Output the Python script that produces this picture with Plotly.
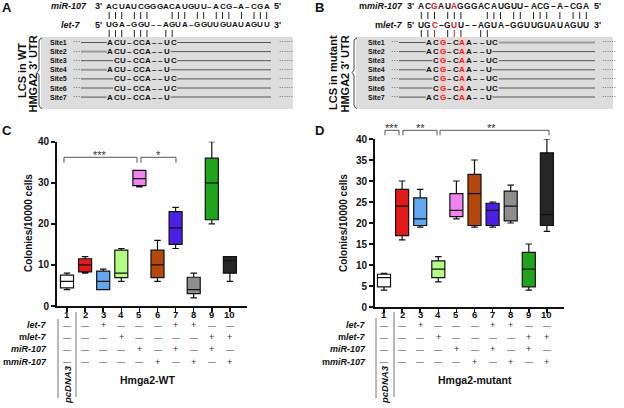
import plotly.graph_objects as go

W, H = 624, 408
FONT = "Liberation Sans, Arial, sans-serif"

# ---------------- data ----------------
categories = list(range(1, 11))
box_colors = ["#ffffff", "#e3191c", "#62a8ee", "#b3fd86", "#f083ee",
              "#b4480c", "#4b1fe6", "#8e8e8e", "#20a31d", "#262626"]

# Panel C: Hmga2-WT
wt_low = [4, 8, 4, 6, 29, 6, 14, 2, 20, 6]
wt_q1 = [4.4, 8.3, 4, 6.9, 29.3, 6.9, 15, 3, 21, 8]
wt_med = [6, 10, 6, 8, 31, 10, 19, 4, 30, 11]
wt_q3 = [7.5, 11.5, 8.5, 13.6, 33, 13.6, 23, 7, 36, 12]
wt_high = [8, 12, 9, 14, 33, 16, 24, 8, 40, 12]

# Panel D: Hmga2-mutant
mut_low = [4, 16, 19, 6, 21, 19, 19, 20, 4, 18]
mut_q1 = [4.8, 17, 19.4, 7, 21.5, 19.4, 19.4, 20.5, 4.8, 19.4]
mut_med = [7, 24, 21, 9, 23, 27, 23, 24, 9, 22]
mut_q3 = [7.8, 28, 26, 11, 27, 31.6, 24.7, 27.6, 13, 36.7]
mut_high = [8, 30, 28, 12, 30, 35, 25, 29, 15, 40]

wt_yticks = [0, 10, 20, 30, 40]
mut_yticks = [0, 5, 10, 15, 20, 25, 30, 35, 40]

row_labels = ["<i>let-7</i>", "m<i>let-7</i>", "<i>miR-107</i>", "m<i>miR-107</i>"]
row_signs = ["--+---++--",
             "---+----++",
             "----+-+-+-",
             "-----+-+-+"]

mir107 = "ACUAUCGGGACAUGUU–ACG–A–CGA"
let7 = "UGA–GGU––AGUA–GGUUGUAUAGUU"
mmir107 = "ACGAUAGGGACAUGUU–ACG–A–CGA"
mlet7 = "UGC–GUU––AGUA–GGUUGUAUAGUU"
top_pairs = [0, 1, 2, 4, 5, 6, 10, 11, 12, 14, 15, 17, 18, 19, 21, 23, 24, 25]
site_pairs = [0, 1, 2, 4, 5, 6, 9, 10]
site_names = ["Site1", "Site2", "Site3", "Site4", "Site5", "Site6", "Site7"]
wt_sites = ["ACU–CCA––UC", "ACU–CCA––U", " CU–CCA––UC", "ACU–CCA––U",
            " CU–CCA––UC", " CU–CCA––UC", "ACU–CCA––U"]
mut_sites = ["ACG–CAA––UC", "ACG–CAA––U", " CG–CAA––UC", "ACG–CAA––U",
             " CG–CAA––UC", " CG–CAA––UC", "ACG–CAA––U"]
mut_cols = [2, 5]
# which flanking lines of each site row are drawn as the pale, thicker variant
wt_pale = [(), ("left",), (), ("left",), (), (), ("right",)]
mut_pale = [("right",), (), (), (), ("left",), (), ("right",)]

# ---------------- helpers ----------------
annotations = []
shapes = []
RED = "#e0201c"


def px(x):
    return x / W


def py(y):
    return 1 - y / H


def txt(x, y, s, size=9, color="#111", xanchor="center", yanchor="middle",
        angle=0, bold=True, family=FONT):
    annotations.append(dict(
        x=px(x), y=py(y), xref="paper", yref="paper",
        text=f"<b>{s}</b>" if bold else s, showarrow=False,
        xanchor=xanchor, yanchor=yanchor, textangle=angle,
        font=dict(family=family, size=size, color=color)))


def line(x0, y0, x1, y1, color="#111", width=1):
    shapes.append(dict(type="line", xref="paper", yref="paper",
                       x0=px(x0), y0=py(y0), x1=px(x1), y1=py(y1),
                       line=dict(color=color, width=width)))


def rect(x0, y0, x1, y1, fill):
    shapes.append(dict(type="rect", xref="paper", yref="paper",
                       x0=px(x0), y0=py(y0), x1=px(x1), y1=py(y1),
                       fillcolor=fill, line=dict(width=0), layer="below"))


def path(points, color="#555", width=1):
    d = "M " + " L ".join(f"{px(x):.5f},{py(y):.5f}" for x, y in points)
    shapes.append(dict(type="path", xref="paper", yref="paper", path=d,
                       line=dict(color=color, width=width)))


def seq_text(x0, cell, y, s, red, size):
    """One character per column; column k spans [x0+k*cell, x0+(k+1)*cell]."""
    first = len(s) - len(s.lstrip())
    last = len(s.rstrip())
    for k in range(first, last):
        txt(x0 + cell * (k + 0.5), y, s[k], size=size,
            color=RED if k in red else "#111")
    return x0 + cell * first, x0 + cell * last


def seq_panel(letter, lx, top_lbl, top_lbl_r, top_seq, bot_lbl, bot_lbl_r,
              bot_seq, col0, cell, red, box, brace_x, side, site_lbl_x,
              site_col0, site_cell, line_end, rdots_x, sites, pale,
              top_size, site_size):
    txt(lx, 7, letter, size=13)
    top_y, bot_y = 6.5, 24.5
    txt(top_lbl_r, top_y, top_lbl, size=9, xanchor="right")
    txt(bot_lbl_r, bot_y, bot_lbl, size=9, xanchor="right")
    txt(col0 - 2.5, top_y, "3'", size=9, xanchor="right")
    txt(col0 - 2.5, bot_y, "5'", size=9, xanchor="right")
    txt(col0 + cell * 26 + 2.5, top_y, "5'", size=9, xanchor="left")
    txt(col0 + cell * 26 + 2.5, bot_y, "3'", size=9, xanchor="left")
    seq_text(col0, cell, top_y, top_seq, red, top_size)
    seq_text(col0, cell, bot_y, bot_seq, red, top_size)
    for i in top_pairs:
        x = col0 + cell * (i + 0.5)
        line(x, 12, x, 19, "#222", 1)
    for i in site_pairs:
        x = col0 + cell * (i + 0.5)
        c = RED if i in red else "#222"
        line(x, 30, x, 37, c, 1)
    # grey box
    rect(box[0], 37, box[1], 109, "#dddddd")
    for i in red:
        xc = site_col0 + site_cell * (i + 0.5)
        rect(xc - 3.2, 38, xc + 3.2, 101, "#f3c9c9")
    # brace
    bx = brace_x
    path([(bx + 3, 38), (bx + 1, 39), (bx, 41), (bx, 70), (bx - 2, 72.5),
          (bx, 75), (bx, 105), (bx + 1, 107.5), (bx + 3, 108.5)], "#444", 1)
    txt(side[0], side[1], side[2], size=11, angle=-90)
    txt(side[3], side[4], side[5], size=11, angle=-90)
    for k, s in enumerate(sites):
        y = 42.5 + 9.1 * k
        txt(site_lbl_x, y, site_names[k], size=7, xanchor="left")
        txt(site_lbl_x + 23, y - 0.5, "···", size=7.5, xanchor="left", bold=False)
        xs, xe = seq_text(site_col0, site_cell, y, s, red, site_size)
        lc, lw = ("#9a9a9a", 2) if "left" in pale[k] else ("#555", 1)
        rc, rw = ("#9a9a9a", 2) if "right" in pale[k] else ("#555", 1)
        line(site_lbl_x + 33, y, xs - 0.3, y, lc, lw)
        line(xe + 0.3, y, line_end, y, rc, rw)
        txt(rdots_x, y - 0.5, "······", size=7, xanchor="left", bold=False)


seq_panel("A", 7, "<i>miR-107</i>", 89, mir107, "<i>let-7</i>", 83, let7,
          106, 6.3, [], (41, 293), 39,
          (22, 71, "LCS in WT", 32.5, 74, "HMGA2 3′ UTR"),
          48, 107, 6.35, 271, 277, wt_sites, wt_pale, 8.05, 8.0)
seq_panel("B", 319, "m<i>miR-107</i>", 405, mmir107, "m<i>let-7</i>", 405, mlet7,
          418, 6.6, mut_cols, (356, 613), 354,
          (333, 73, "LCS in mutant", 344, 74.5, "HMGA2 3′ UTR"),
          366, 426, 6.6, 595, 600, mut_sites, mut_pale, 8.4, 8.0)

# ---------------- box plots ----------------
fig = go.Figure()


def add_boxes(low, q1, med, q3, high, xa, ya):
    for i, c in enumerate(categories):
        fig.add_trace(go.Box(
            x=[c], q1=[q1[i]], median=[med[i]], q3=[q3[i]],
            lowerfence=[low[i]], upperfence=[high[i]],
            fillcolor=box_colors[i], line=dict(color="#111", width=1.2),
            width=0.72, whiskerwidth=0.5, boxpoints=False,
            xaxis=xa, yaxis=ya, hoverinfo="skip", showlegend=False))


add_boxes(wt_low, wt_q1, wt_med, wt_q3, wt_high, "x", "y")
add_boxes(mut_low, mut_q1, mut_med, mut_q3, mut_high, "x2", "y2")

spacing = 18.1
c_x1, d_x1 = 67, 384  # pixel of category 1 in C and D


def xaxis_cfg(left, right, cat1, anchor):
    lo = 1 + (left - cat1) / spacing
    hi = 1 + (right - cat1) / spacing
    return dict(domain=[px(left), px(right)], range=[lo, hi], anchor=anchor,
                tickvals=categories, showticklabels=False, ticks="outside",
                ticklen=4, tickwidth=1.5, tickcolor="#111", showline=True,
                linecolor="#111", linewidth=2, showgrid=False, zeroline=False,
                fixedrange=True, automargin=False)


def yaxis_cfg(bottom, top, ticks, anchor):
    return dict(domain=[py(bottom), py(top)], range=[0, 40], anchor=anchor,
                tickvals=ticks, ticktext=[f"<b>{t}</b>" for t in ticks],
                ticks="outside", ticklen=4, tickwidth=2, tickcolor="#111",
                showline=True, linecolor="#111", linewidth=2, showgrid=False,
                zeroline=False, tickfont=dict(family=FONT, size=10, color="#111"),
                fixedrange=True, automargin=False)


# letters C / D
txt(7, 130, "C", size=13)
txt(319, 130, "D", size=13)

# y titles
txt(29, 223, "Colonies/10000 cells", size=10, angle=-90)
txt(344, 223, "Colonies/10000 cells", size=10, angle=-90)


def table(cat1, lbl_r, sep1_x, sep1_y0, sep2_x, group_lbl, group_x):
    for c in categories:
        txt(cat1 + (c - 1) * spacing, 314.3, str(c), size=9.5)
    for r in range(4):
        y = 325 + 12.2 * r
        txt(lbl_r, y, row_labels[r], size=9, xanchor="right")
        for j, s in enumerate(row_signs[r]):
            x = cat1 + j * spacing
            if s == "+":
                txt(x, y, "+", size=9, color="#333", bold=False)
            else:
                txt(x, y, "—", size=8, color="#333", bold=False)
    line(sep1_x, sep1_y0, sep1_x, 398, "#777", 1)
    line(sep2_x, 312, sep2_x, 397, "#777", 1)
    txt(cat1, 385, "<i>pcDNA3</i>", size=9.5, angle=-90)
    txt(group_x, 380, group_lbl, size=10.5)


table(c_x1, 49, 58, 319, 76, "Hmga2-WT", 147)
table(d_x1, 368, 376, 318, 394, "Hmga2-mutant", 475)


def bracket(x0, x1, y, drop, stars, sx):
    path([(x0, y + drop), (x0, y), (x1, y), (x1, y + drop)], "#555", 1)
    txt(sx, y - 2.5, stars, size=11, color="#333", bold=False)


bracket(64, 137, 157.3, 5.5, "***", 100)
bracket(141, 176, 157.3, 5.5, "*", 158.5)
bracket(385, 399, 130.3, 5, "***", 392)
bracket(403, 437, 130.3, 5, "**", 420)
bracket(440, 549, 130.3, 5, "**", 491)

fig.update_layout(
    width=W, height=H, margin=dict(l=0, r=0, t=0, b=0),
    paper_bgcolor="white", plot_bgcolor="white",
    boxmode="overlay", showlegend=False,
    font=dict(family=FONT, color="#111"),
    xaxis=xaxis_cfg(57, 247, c_x1, "y"),
    yaxis=yaxis_cfg(306, 141.7, wt_yticks, "x"),
    xaxis2=xaxis_cfg(375, 564, d_x1, "y2"),
    yaxis2=yaxis_cfg(307, 139, mut_yticks, "x2"),
    annotations=annotations, shapes=shapes,
)

fig.write_html(
    "out.html",
    config={"displayModeBar": False, "staticPlot": True},
    post_script="document.body.style.margin='0px';document.body.style.padding='0px';",
)
